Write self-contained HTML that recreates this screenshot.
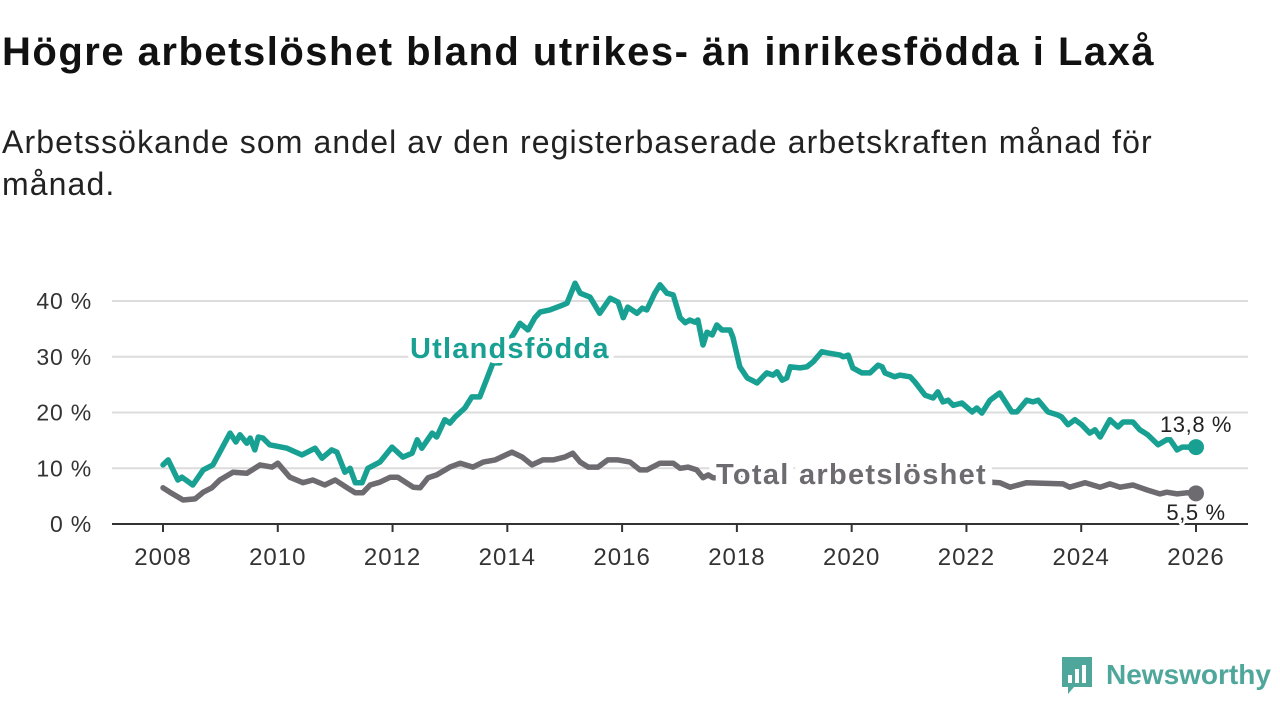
<!DOCTYPE html>
<html><head><meta charset="utf-8"><style>
body{margin:0;background:#fff;width:1280px;height:720px;overflow:hidden;font-family:"Liberation Sans",sans-serif}
h1{position:absolute;left:2px;top:30px;margin:0;font-size:40px;font-weight:bold;color:#111;letter-spacing:1.5px;white-space:nowrap}
.sub{position:absolute;left:2px;top:121px;margin:0;font-size:32px;line-height:42px;color:#222;width:1250px;letter-spacing:1.1px}
svg{position:absolute;left:0;top:0}
</style></head><body>
<h1>Högre arbetslöshet bland utrikes- än inrikesfödda i Laxå</h1>
<p class="sub">Arbetssökande som andel av den registerbaserade arbetskraften månad för<br>månad.</p>
<svg id="chart" width="1280" height="720"></svg>
<script>
const yTicks=[0,10,20,30,40];
const xTicks=[2008,2010,2012,2014,2016,2018,2020,2022,2024,2026];
const foreignDates=[2008.0,2008.09,2008.26,2008.33,2008.52,2008.70,2008.87,2009.17,2009.27,2009.34,2009.46,2009.52,2009.60,2009.66,2009.74,2009.86,2010.16,2010.42,2010.65,2010.77,2010.94,2011.03,2011.17,2011.26,2011.35,2011.47,2011.57,2011.78,2011.99,2012.18,2012.34,2012.43,2012.51,2012.69,2012.77,2012.91,2013.00,2013.09,2013.26,2013.38,2013.52,2013.75,2013.87,2013.96,2014.10,2014.22,2014.36,2014.48,2014.57,2014.74,2014.97,2015.04,2015.18,2015.27,2015.44,2015.61,2015.79,2015.93,2016.02,2016.10,2016.26,2016.35,2016.43,2016.57,2016.66,2016.78,2016.89,2017.01,2017.10,2017.18,2017.27,2017.32,2017.41,2017.48,2017.57,2017.65,2017.74,2017.88,2017.93,2018.05,2018.18,2018.26,2018.35,2018.52,2018.63,2018.70,2018.79,2018.87,2018.93,2019.10,2019.22,2019.33,2019.48,2019.57,2019.80,2019.85,2019.94,2020.02,2020.18,2020.32,2020.37,2020.46,2020.53,2020.58,2020.75,2020.84,2021.02,2021.10,2021.28,2021.42,2021.50,2021.59,2021.68,2021.77,2021.92,2022.10,2022.18,2022.27,2022.41,2022.58,2022.79,2022.88,2023.05,2023.16,2023.25,2023.42,2023.58,2023.66,2023.77,2023.89,2024.01,2024.15,2024.24,2024.33,2024.50,2024.64,2024.73,2024.90,2025.02,2025.16,2025.34,2025.49,2025.55,2025.67,2025.76,2026.0];
const foreignValues=[10.6,11.5,7.9,8.4,7.0,9.7,10.6,16.3,14.7,16.0,14.5,15.4,13.3,15.6,15.4,14.2,13.6,12.4,13.6,11.8,13.3,12.9,9.3,10.0,7.4,7.4,10.0,11.1,13.8,12.0,12.7,15.1,13.6,16.3,15.6,18.7,18.1,19.2,20.8,22.8,22.8,28.9,28.9,32.0,33.9,36.0,34.8,37.0,38.0,38.4,39.3,39.6,43.2,41.4,40.7,37.8,40.5,39.8,37.0,38.9,37.8,38.7,38.4,41.4,42.9,41.4,41.1,37.0,36.1,36.6,36.2,36.6,32.1,34.4,33.9,35.7,34.8,34.8,33.5,28.2,26.2,25.8,25.3,27.1,26.7,27.3,25.8,26.2,28.2,28.0,28.2,29.1,30.9,30.7,30.3,30.0,30.3,28.0,27.1,27.1,27.6,28.5,28.2,27.1,26.4,26.7,26.4,25.5,23.1,22.6,23.7,21.9,22.2,21.3,21.7,20.1,20.8,19.9,22.2,23.5,20.1,20.1,22.2,21.9,22.2,20.1,19.6,19.2,17.8,18.7,17.8,16.3,16.9,15.6,18.7,17.4,18.3,18.3,16.9,16.0,14.2,15.1,15.1,13.3,13.8,13.8];
const totalDates=[2008.0,2008.12,2008.35,2008.56,2008.70,2008.85,2008.99,2009.22,2009.46,2009.69,2009.90,2010.00,2010.21,2010.44,2010.61,2010.82,2011.00,2011.21,2011.35,2011.48,2011.61,2011.78,2011.96,2012.09,2012.36,2012.48,2012.62,2012.77,2013.00,2013.18,2013.40,2013.58,2013.79,2014.08,2014.26,2014.43,2014.62,2014.80,2015.00,2015.14,2015.27,2015.41,2015.58,2015.75,2015.93,2016.14,2016.31,2016.43,2016.66,2016.89,2017.01,2017.15,2017.30,2017.41,2017.50,2017.58,2018.0,2018.5,2019.0,2019.5,2020.0,2020.5,2021.0,2021.5,2022.0,2022.44,2022.58,2022.76,2023.05,2023.68,2023.80,2024.07,2024.33,2024.50,2024.68,2024.90,2025.15,2025.37,2025.49,2025.67,2025.84,2026.0];
const totalValues=[6.5,5.7,4.3,4.5,5.7,6.5,7.9,9.3,9.1,10.6,10.2,10.9,8.4,7.4,7.9,7.0,7.9,6.5,5.6,5.6,7.0,7.5,8.4,8.4,6.6,6.5,8.3,8.8,10.2,10.9,10.2,11.1,11.5,12.9,12.0,10.6,11.5,11.5,12.0,12.7,11.1,10.2,10.2,11.5,11.5,11.1,9.7,9.7,10.9,10.9,10.0,10.2,9.7,8.3,8.8,8.3,8.2,8.5,8.0,7.8,8.5,9.5,8.8,8.0,7.6,7.5,7.4,6.6,7.4,7.2,6.6,7.4,6.6,7.2,6.6,7.0,6.1,5.4,5.7,5.4,5.6,5.5];
const lastLabels=["13,8 %","5,5 %"];

const NS="http://www.w3.org/2000/svg";
const svg=document.getElementById('chart');
const X=y=>163+(y-2008)*(1196-163)/18;
const Y=v=>524-v*(524-301)/40;
function mk(t,a){const e=document.createElementNS(NS,t);for(const k in a)e.setAttribute(k,a[k]);svg.appendChild(e);return e;}

yTicks.forEach(t=>{
  if(t>0){const g=mk('line',{x1:112,x2:1248,y1:Y(t),y2:Y(t),stroke:'#dcdcdc','stroke-width':2});
  
  }
  const l=mk('text',{x:92,y:Y(t)+8,'text-anchor':'end','font-size':23,fill:'#333','letter-spacing':0.8,'font-family':'Liberation Sans, sans-serif'});
  l.textContent=t+' %';
  
  
});
const ax=mk('line',{x1:112,x2:1248,y1:524,y2:524,stroke:'#333','stroke-width':2});


xTicks.forEach(t=>{
  const tk=mk('line',{x1:X(t),x2:X(t),y1:524,y2:532,stroke:'#333','stroke-width':2});
  
  
  const l=mk('text',{x:X(t),y:565,'text-anchor':'middle','font-size':24,fill:'#333','letter-spacing':1,'font-family':'Liberation Sans, sans-serif'});
  l.textContent=t;
  
  
});
function line(d,v,c,name){
  const p=mk('path',{d:d.map((x,i)=>(i?'L':'M')+X(x).toFixed(1)+','+Y(v[i]).toFixed(1)).join(''),fill:'none',stroke:c,'stroke-width':5.5,'stroke-linejoin':'round','stroke-linecap':'round'});
  
  
}
line(totalDates,totalValues,'#6d6b70','total-line');
line(foreignDates,foreignValues,'#18a092','foreign-born-line');
function lab(x,y,txt,c,name,size,bold,anchor,ls,sw){
  const t=mk('text',{x:x,y:y,fill:c,'font-size':size,'font-weight':bold?'bold':'normal','text-anchor':anchor||'start','letter-spacing':ls||0,stroke:'#fff','stroke-width':sw,'paint-order':'stroke','stroke-linejoin':'round','font-family':'Liberation Sans, sans-serif'});
  t.textContent=txt;
  
  
}
lab(410,358,'Utlandsfödda','#18a092','foreign-born-label',29,true,'start',1.2,10);
lab(716,484,'Total arbetslöshet','#6d6b70','total-label',29,true,'start',1.3,14);
const d1=mk('circle',{cx:X(2026),cy:Y(foreignValues[foreignValues.length-1]),r:8,fill:'#18a092'});


const d2=mk('circle',{cx:X(2026),cy:Y(totalValues[totalValues.length-1]),r:8,fill:'#6d6b70'});


lab(X(2026),432,lastLabels[0],'#222','foreign-born-end-label',22,false,'middle',0.6,5);
lab(X(2026),520,lastLabels[1],'#222','total-end-label',22,false,'middle',0.6,5);
</script>
<div style="position:absolute;left:1060px;top:655px;height:40px;display:flex;align-items:center">
  <svg width="34" height="40" viewBox="0 0 34 40" style="position:static">
    <path d="M2 2H32V32H14L8 39V32H2Z" fill="#4fa79b"/>
    <rect x="8" y="20" width="4" height="8" fill="#fff"/><rect x="15" y="14" width="4" height="14" fill="#fff"/><rect x="22" y="10" width="4" height="18" fill="#fff"/>
  </svg>
  <span style="margin-left:12px;font-size:28px;font-weight:bold;color:#4fa79b">Newsworthy</span>
</div>
</body></html>
